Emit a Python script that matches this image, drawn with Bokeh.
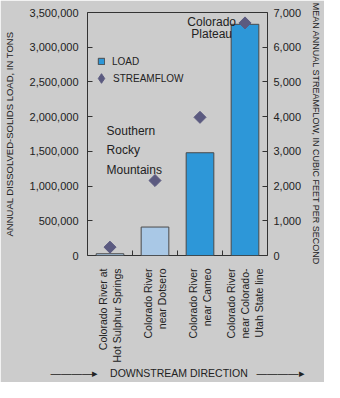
import math
from bokeh.plotting import figure
from bokeh.models import (Range1d, LinearAxis, FixedTicker, NumeralTickFormatter,
                          Legend, LegendItem, Label, ColumnDataSource)
from bokeh.embed import file_html
from bokeh.resources import INLINE

# ---------------- data ----------------
stations = [
    "Colorado River at\nHot Sulphur Springs",
    "Colorado River\nnear Dotsero",
    "Colorado River\nnear Cameo",
    "Colorado River\nnear Colorado-\nUtah State line",
]
load_tons = [25000, 410000, 1480000, 3330000]
streamflow_cfs = [240, 2160, 3980, 6700]
load_ticks = [0, 500000, 1000000, 1500000, 2000000, 2500000, 3000000, 3500000]
flow_ticks = [0, 1000, 2000, 3000, 4000, 5000, 6000, 7000]

# ---------------- style ----------------
bar_colors = ["#a9c8e6", "#a9c8e6", "#2d97d8", "#2d97d8"]
BG = "#cccccc"
INK = "#222222"
FRAME = "#333333"
DIAMOND = "#5b5a80"
FONT = "Liberation Sans"

W, H = 324, 382
FL, FR, FT, FB = 87, 273, 12, 265          # frame edges in canvas px
LOAD_MAX, FLOW_MAX = 3500000, 7000
FH = FB - FT

xs = list(range(1, len(stations) + 1))
src = ColumnDataSource(dict(x=xs, load=load_tons, flow=streamflow_cfs, color=bar_colors))

p = figure(width=W, height=H, output_backend="svg", toolbar_location=None,
           x_range=Range1d(0.5, 4.5), y_range=Range1d(0, LOAD_MAX),
           min_border_left=FL, min_border_right=W - FR,
           min_border_top=FT, min_border_bottom=H - FB)
p.extra_y_ranges = {"flow": Range1d(0, FLOW_MAX)}
p.background_fill_color = BG
p.border_fill_color = BG
p.outline_line_color = FRAME
p.outline_line_width = 1
p.grid.visible = False

bars = p.vbar(x="x", top="load", width=0.615, source=src, fill_color="color",
              line_color="#4a4a4a", line_width=1)
pts = p.scatter(x="x", y="flow", source=src, y_range_name="flow", marker="square",
                angle=math.pi / 4, size=8.5, fill_color=DIAMOND, line_color=DIAMOND)
# legend key for the streamflow symbol (a single undrawn NaN entry)
key = p.scatter(x=[float("nan")], y=[float("nan")], y_range_name="flow",
                marker="diamond", size=10, fill_color=DIAMOND, line_color=DIAMOND)

# left axis
ya = p.yaxis[0]
ya.ticker = FixedTicker(ticks=load_ticks)
ya.formatter = NumeralTickFormatter(format="0,0")
ya.axis_line_color = None
ya.major_tick_in = 5
ya.major_tick_out = 0
ya.major_tick_line_color = FRAME
ya.minor_tick_line_color = None
ya.major_label_standoff = 9
ya.major_label_text_font = FONT
ya.major_label_text_font_size = "11px"
ya.major_label_text_color = INK
ya.axis_label = "ANNUAL DISSOLVED-SOLIDS LOAD, IN TONS"
ya.axis_label_text_font = FONT
ya.axis_label_text_font_size = "9.5px"
ya.axis_label_text_font_style = "normal"
ya.axis_label_text_color = INK
ya.axis_label_standoff = 12

# right axis
ra = LinearAxis(y_range_name="flow", ticker=FixedTicker(ticks=flow_ticks),
                formatter=NumeralTickFormatter(format="0,0"))
ra.axis_line_color = None
ra.major_tick_in = 5
ra.major_tick_out = 0
ra.major_tick_line_color = FRAME
ra.minor_tick_line_color = None
ra.major_label_standoff = 6
ra.major_label_text_font = FONT
ra.major_label_text_font_size = "11px"
ra.major_label_text_color = INK
ra.axis_label = "MEAN ANNUAL STREAMFLOW, IN CUBIC FEET PER SECOND"
ra.axis_label_text_font = FONT
ra.axis_label_text_font_size = "9px"
ra.axis_label_text_font_style = "normal"
ra.axis_label_text_color = INK
ra.axis_label_standoff = 7
p.add_layout(ra, "right")

# bottom axis
NB = "\u00a0"
xa = p.xaxis[0]
xa.ticker = FixedTicker(ticks=xs, minor_ticks=[1.5, 2.5, 3.5])
xa.major_label_overrides = {x: s for x, s in zip(xs, stations)}
xa.major_label_orientation = math.pi / 2
xa.axis_line_color = None
xa.major_tick_line_color = None
xa.minor_tick_line_color = FRAME
xa.minor_tick_in = 5
xa.minor_tick_out = 0
xa.major_label_standoff = 7
xa.major_label_text_font = FONT
xa.major_label_text_font_size = "10.5px"
xa.major_label_text_color = INK
xa.axis_label = ("\u2014\u2014\u2014\u2014\u25b8" + NB * 4 + "DOWNSTREAM DIRECTION"
                 + NB * 3 + "\u2014\u2014\u2014\u2014\u25b8")
xa.axis_label_text_font = FONT
xa.axis_label_text_font_size = "10.5px"
xa.axis_label_text_font_style = "normal"
xa.axis_label_text_color = INK
xa.axis_label_standoff = 2

# legends (bottom-left corner, px from frame's bottom-left)
leg_common = dict(orientation="vertical", background_fill_alpha=0, border_line_color=None,
                  label_height=12, label_width=10, padding=0, margin=0, spacing=0,
                  label_text_font=FONT, label_text_font_size="10px", label_text_color=INK)
leg1 = Legend(items=[LegendItem(label="LOAD", renderers=[bars], index=2)],
              location=(10, FH - 65), glyph_width=8, glyph_height=8,
              label_standoff=7, **leg_common)
leg2 = Legend(items=[LegendItem(label="STREAMFLOW", renderers=[key], index=0)],
              location=(2, FH - 88), glyph_width=24, glyph_height=24,
              label_standoff=0, **leg_common)
p.add_layout(leg1)
p.add_layout(leg2)

# region annotations (placed as fractions of the axes)
p.add_layout(Label(x=0.5 + 4 * 0.106, y=LOAD_MAX * 0.542, text="Southern\nRocky\nMountains",
                   text_align="left", text_baseline="top", text_line_height=1.4,
                   text_font=FONT, text_font_size="12px", text_color=INK))
p.add_layout(Label(x=0.5 + 4 * 0.69, y=LOAD_MAX * 0.99, text="Colorado\nPlateau",
                   text_align="center", text_baseline="top", text_line_height=0.88,
                   text_font=FONT, text_font_size="12px", text_color=INK))

open("out.html", "w").write(file_html(p, INLINE))
